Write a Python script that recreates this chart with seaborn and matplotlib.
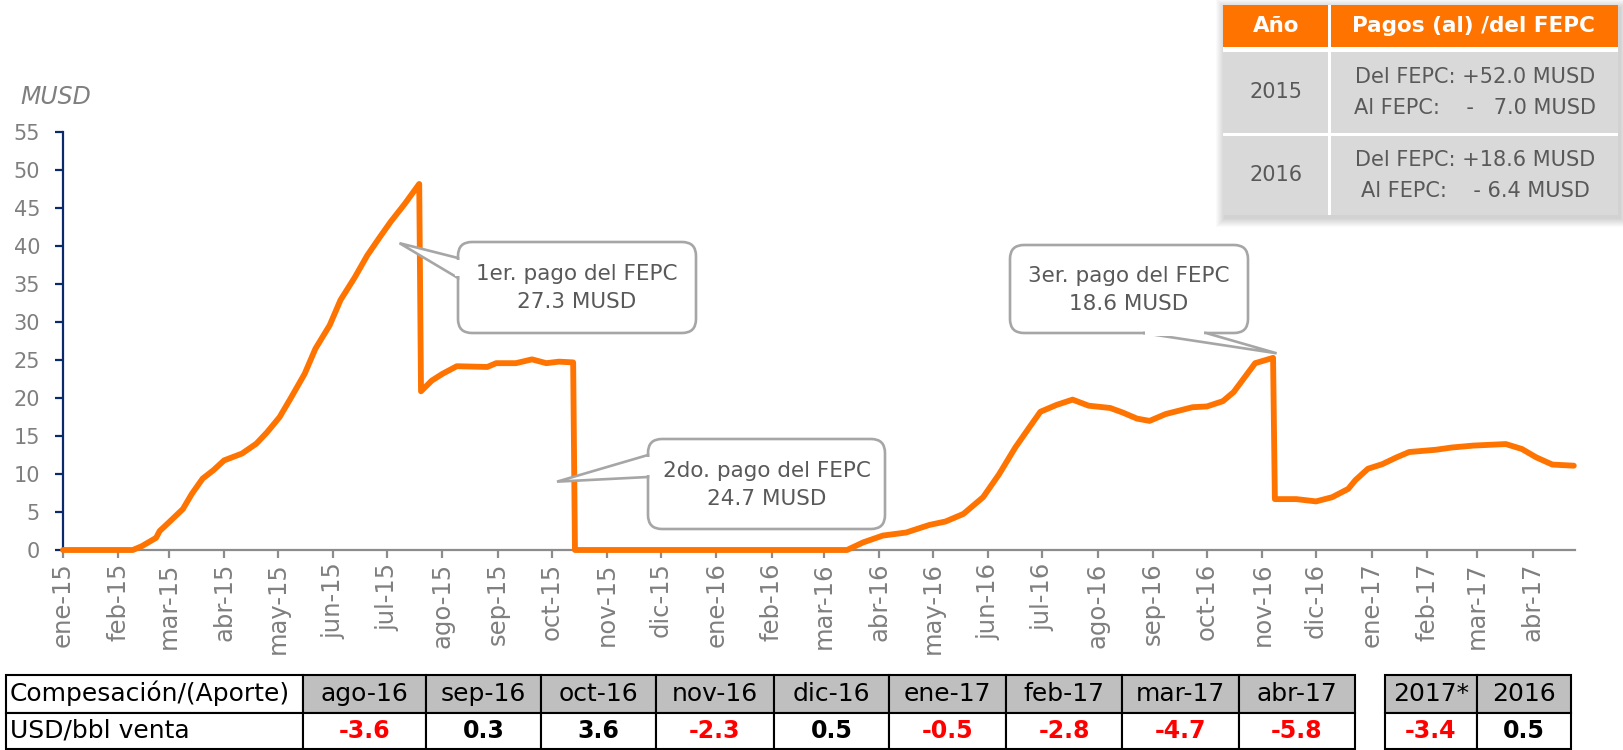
import matplotlib
matplotlib.use("Agg")
import matplotlib.pyplot as plt
import matplotlib.dates as mdates
from matplotlib.ticker import FuncFormatter
from matplotlib.patches import FancyBboxPatch, Polygon, Rectangle
import numpy as np
import pandas as pd
import seaborn as sns

# ---------------------------------------------------------------------------
# Saldo acumulado del FEPC (MUSD)
fechas = [
    "2015-01-01", "2015-02-09", "2015-02-14", "2015-02-22", "2015-02-24",
    "2015-03-01", "2015-03-09", "2015-03-14", "2015-03-20", "2015-03-26",
    "2015-04-01", "2015-04-11", "2015-04-19", "2015-04-25", "2015-05-02",
    "2015-05-08", "2015-05-16", "2015-05-22", "2015-05-30", "2015-06-05",
    "2015-06-13", "2015-06-20", "2015-06-27", "2015-07-03", "2015-07-11",
    "2015-07-19", "2015-07-20", "2015-07-26", "2015-08-01", "2015-08-09",
    "2015-08-26", "2015-08-31", "2015-09-11", "2015-09-20", "2015-09-28",
    "2015-10-05", "2015-10-13", "2015-10-14", "2016-03-14", "2016-03-23",
    "2016-04-03", "2016-04-16", "2016-04-29", "2016-05-08", "2016-05-18",
    "2016-05-29", "2016-06-07", "2016-06-16", "2016-06-24", "2016-06-30",
    "2016-07-09", "2016-07-18", "2016-07-27", "2016-08-08", "2016-08-15",
    "2016-08-23", "2016-08-30", "2016-09-08", "2016-09-23", "2016-10-01",
    "2016-10-10", "2016-10-16", "2016-10-22", "2016-10-28", "2016-11-07",
    "2016-11-08", "2016-11-20", "2016-12-01", "2016-12-10", "2016-12-19",
    "2016-12-23", "2016-12-30", "2017-01-07", "2017-01-15", "2017-01-22",
    "2017-02-06", "2017-02-15", "2017-02-27", "2017-03-17", "2017-03-26",
    "2017-04-03", "2017-04-12", "2017-04-24",
]
saldo = [
    0.0, 0.0, 0.5, 1.6, 2.5,
    3.6, 5.4, 7.4, 9.4, 10.5,
    11.8, 12.7, 14.0, 15.5, 17.5,
    19.9, 23.2, 26.5, 29.6, 32.9,
    35.9, 38.8, 41.2, 43.2, 45.6,
    48.2, 20.9, 22.3, 23.2, 24.2,
    24.1, 24.6, 24.6, 25.1, 24.6,
    24.8, 24.7, 0.0, 0.0, 1.0,
    1.9, 2.3, 3.3, 3.75, 4.75,
    6.95, 10.0, 13.5, 16.2, 18.2,
    19.1, 19.8, 19.0, 18.7, 18.1,
    17.3, 17.0, 17.9, 18.8, 18.9,
    19.6, 20.8, 22.7, 24.6, 25.3,
    6.7, 6.7, 6.4, 6.95, 8.05,
    9.2, 10.7, 11.3, 12.2, 12.9,
    13.2, 13.5, 13.75, 13.95, 13.3,
    12.2, 11.25, 11.1,
]

meses = ["ene", "feb", "mar", "abr", "may", "jun",
         "jul", "ago", "sep", "oct", "nov", "dic"]

# Pagos del FEPC (llamadas)
pago_textos = ["1er. pago del FEPC", "2do. pago del FEPC", "3er. pago del FEPC"]
pago_montos = [27.3, 24.7, 18.6]
pago_fechas = ["2015-07-08", "2015-10-04", "2016-11-09"]
pago_niveles = [40.4, 9.0, 25.9]

# Resumen anual (tabla superior)
resumen_anios = ["2015", "2016"]
resumen_del = ["Del FEPC: +52.0 MUSD", "Del FEPC: +18.6 MUSD"]
resumen_al = ["Al FEPC:    -   7.0 MUSD", "Al FEPC:    - 6.4 MUSD"]

# Compensación / (aporte) mensual (tabla inferior)
comp_meses = ["ago-16", "sep-16", "oct-16", "nov-16", "dic-16",
              "ene-17", "feb-17", "mar-17", "abr-17"]
comp_valores = [-3.6, 0.3, 3.6, -2.3, 0.5, -0.5, -2.8, -4.7, -5.8]
comp_anios = ["2017*", "2016"]
comp_anios_valores = [-3.4, 0.5]

# ---------------------------------------------------------------------------
sns.set_style("white")
plt.rcParams["font.family"] = ["DejaVu Sans"]

W, H = 1623, 750
NARANJA = "#FF7300"
GRIS_TXT = "#7F7F7F"
GRIS_OSC = "#595959"
AZUL = "#0B2A6B"
BORDE = "#A6A6A6"

fig = plt.figure(figsize=(W / 100, H / 100), dpi=100)

y0_px, y55_px = 550.0, 132.3
x_left, x_right = 63.0, 1575.0
ax = fig.add_axes([x_left / W, 1 - y0_px / H,
                   (x_right - x_left) / W, (y0_px - y55_px) / H])

df = pd.DataFrame({"fecha": pd.to_datetime(fechas), "saldo": saldo})
sns.lineplot(data=df, x="fecha", y="saldo", ax=ax, color=NARANJA,
             linewidth=4.2, estimator=None, sort=False)
for ln in ax.lines:
    ln.set_clip_on(False)
    ln.set_zorder(4)
    ln.set_solid_joinstyle("round")
    ln.set_solid_capstyle("round")

ax.set_ylim(0, 55)
ax.set_yticks(np.arange(0, 56, 5))
ax.set_xlim(pd.Timestamp("2015-01-01"), pd.Timestamp("2017-04-24 16:00"))
ax.xaxis.set_major_locator(mdates.MonthLocator())
ax.xaxis.set_major_formatter(FuncFormatter(
    lambda v, _: f"{meses[mdates.num2date(v).month - 1]}-{mdates.num2date(v).year % 100:02d}"))
ax.set_xlabel("")
ax.set_ylabel("")
ax.grid(False)
for s in ("top", "right"):
    ax.spines[s].set_visible(False)
ax.spines["left"].set_color(AZUL)
ax.spines["left"].set_linewidth(1.6)
ax.spines["bottom"].set_color("#8C8C8C")
ax.spines["bottom"].set_linewidth(1.6)
ax.tick_params(axis="y", left=True, direction="out", length=5.5, width=1.6,
               color=AZUL, labelcolor=GRIS_TXT, labelsize=15, pad=11)
ax.tick_params(axis="x", bottom=True, direction="out", length=6, width=1.6,
               color="#8C8C8C", labelcolor=GRIS_TXT, labelsize=17.5, pad=3,
               labelrotation=90)

# ---------------------------------------------------------------------------
# Capa de anotaciones en coordenadas de píxel
ov = fig.add_axes([0, 0, 1, 1], zorder=5)
ov.set_xlim(0, W)
ov.set_ylim(H, 0)
ov.axis("off")
ov.patch.set_alpha(0)

fig.text(20 / W, 1 - 97 / H, "MUSD", fontsize=17, style="italic",
         color=GRIS_TXT, ha="left", va="center")


def data_to_px(fecha, valor):
    disp = ax.transData.transform((mdates.date2num(pd.Timestamp(fecha)), valor))
    return ov.transData.inverted().transform(disp)


def callout(box, base1, base2, tip, texto):
    x0, y0, x1, y1 = box
    ov.add_patch(FancyBboxPatch((x0, y0), x1 - x0, y1 - y0,
                                boxstyle="round,pad=0,rounding_size=14",
                                facecolor="white", edgecolor=BORDE,
                                linewidth=1.9, zorder=6))
    ov.add_patch(Polygon([tip, base1, base2], closed=True, facecolor="white",
                         edgecolor=BORDE, linewidth=1.9, zorder=7,
                         joinstyle="miter"))
    b1, b2 = np.array(base1, float), np.array(base2, float)
    d = (b2 - b1) / np.linalg.norm(b2 - b1)
    n = np.array([-d[1], d[0]])
    p1, p2 = b1 + d * 2.2, b2 - d * 2.2
    ov.add_patch(Polygon([p1 + n * 3, p2 + n * 3, p2 - n * 3, p1 - n * 3],
                         closed=True, facecolor="white", edgecolor="none",
                         zorder=8))
    ov.text((x0 + x1) / 2, (y0 + y1) / 2 + 1, texto, ha="center", va="center",
            fontsize=15.5, color=GRIS_OSC, linespacing=1.5, zorder=9)


cajas = [(458, 242, 696, 333), (648, 439, 885, 529), (1010, 245, 1248, 333)]
bases = [((458, 258), (458, 278)), ((648, 455), (648, 477)),
         ((1143, 333), (1206, 333))]
for caja, (b1, b2), txt, monto, f, v in zip(cajas, bases, pago_textos,
                                            pago_montos, pago_fechas, pago_niveles):
    callout(caja, b1, b2, tuple(data_to_px(f, v)), f"{txt}\n{monto:.1f} MUSD")

# ---------------------------------------------------------------------------
# Tabla resumen (arriba a la derecha)
tx0, tx1, tcol = 1223, 1618, 1329
ty = [5, 47, 52, 133, 135.5, 215]
for i in range(9, 0, -1):
    ov.add_patch(Rectangle((tx0 - i + 2, ty[0] - i + 3), tx1 - tx0 + 2 * i,
                           ty[-1] - ty[0] + 2 * i, facecolor="black",
                           edgecolor="none", alpha=0.018, zorder=5))
ov.add_patch(Rectangle((tx0, ty[0]), tx1 - tx0, ty[-1] - ty[0],
                       facecolor="white", edgecolor="none", zorder=5.5))
celdas = [(ty[0], ty[1], NARANJA), (ty[2], ty[3], "#D9D9D9"), (ty[4], ty[5], "#D9D9D9")]
for (ya, yb, c) in celdas:
    ov.add_patch(Rectangle((tx0, ya), tcol - 1.5 - tx0, yb - ya, facecolor=c,
                           edgecolor="none", zorder=6))
    ov.add_patch(Rectangle((tcol + 1.5, ya), tx1 - tcol - 1.5, yb - ya,
                           facecolor=c, edgecolor="none", zorder=6))
cx1, cx2 = (tx0 + tcol) / 2, (tcol + tx1) / 2
ov.text(cx1, (ty[0] + ty[1]) / 2, "Año", ha="center", va="center",
        fontsize=15.5, fontweight="bold", color="white", zorder=7)
ov.text(cx2, (ty[0] + ty[1]) / 2, "Pagos (al) /del FEPC", ha="center",
        va="center", fontsize=15.5, fontweight="bold", color="white", zorder=7)
for k, (anio, l1, l2) in enumerate(zip(resumen_anios, resumen_del, resumen_al)):
    ya, yb = ty[2 + 2 * k], ty[3 + 2 * k]
    yc = (ya + yb) / 2
    ov.text(cx1, yc, anio, ha="center", va="center", fontsize=15,
            color=GRIS_OSC, zorder=7)
    ov.text(cx2 + 2, yc - 15.5, l1, ha="center", va="center", fontsize=15,
            color=GRIS_OSC, zorder=7)
    ov.text(cx2 + 2, yc + 15.5, l2, ha="center", va="center", fontsize=15,
            color=GRIS_OSC, zorder=7)

# ---------------------------------------------------------------------------
# Tabla de compensación / (aporte)
ry = [675, 712.5, 749]
col_x = [6, 303, 426, 541, 656, 774, 889, 1006, 1122, 1239, 1355]
col2_x = [1385, 1477, 1571]
FS_CAB = 18
FS_VAL = 17


def fila_tabla(xs, cab, vals, primera=None):
    for j in range(len(xs) - 1):
        xa, xb = xs[j], xs[j + 1]
        gris = not (primera is not None and j == 0)
        ov.add_patch(Rectangle((xa, ry[0]), xb - xa, ry[1] - ry[0],
                               facecolor="#BFBFBF" if gris else "white",
                               edgecolor="black", linewidth=1.5, zorder=6))
        ov.add_patch(Rectangle((xa, ry[1]), xb - xa, ry[2] - ry[1],
                               facecolor="white", edgecolor="black",
                               linewidth=1.5, zorder=6))
    offs = 1 if primera is not None else 0
    if primera is not None:
        ov.text(xs[0] + 4, (ry[0] + ry[1]) / 2, primera[0], ha="left",
                va="center", fontsize=FS_CAB, color="black", zorder=7)
        ov.text(xs[0] + 4, (ry[1] + ry[2]) / 2, primera[1], ha="left",
                va="center", fontsize=FS_CAB, color="black", zorder=7)
    for j, (c, v) in enumerate(zip(cab, vals)):
        xa, xb = xs[j + offs], xs[j + offs + 1]
        ov.text((xa + xb) / 2, (ry[0] + ry[1]) / 2, c, ha="center",
                va="center", fontsize=FS_CAB, color="black", zorder=7)
        ov.text((xa + xb) / 2, (ry[1] + ry[2]) / 2, f"{v:.1f}", ha="center",
                va="center", fontsize=FS_VAL, fontweight="bold",
                color="#FF0000" if v < 0 else "black", zorder=7)


fila_tabla(col_x, comp_meses, comp_valores,
           primera=("Compesación/(Aporte)", "USD/bbl venta"))
fila_tabla(col2_x, comp_anios, comp_anios_valores)

fig.savefig("out.png", dpi=100)
